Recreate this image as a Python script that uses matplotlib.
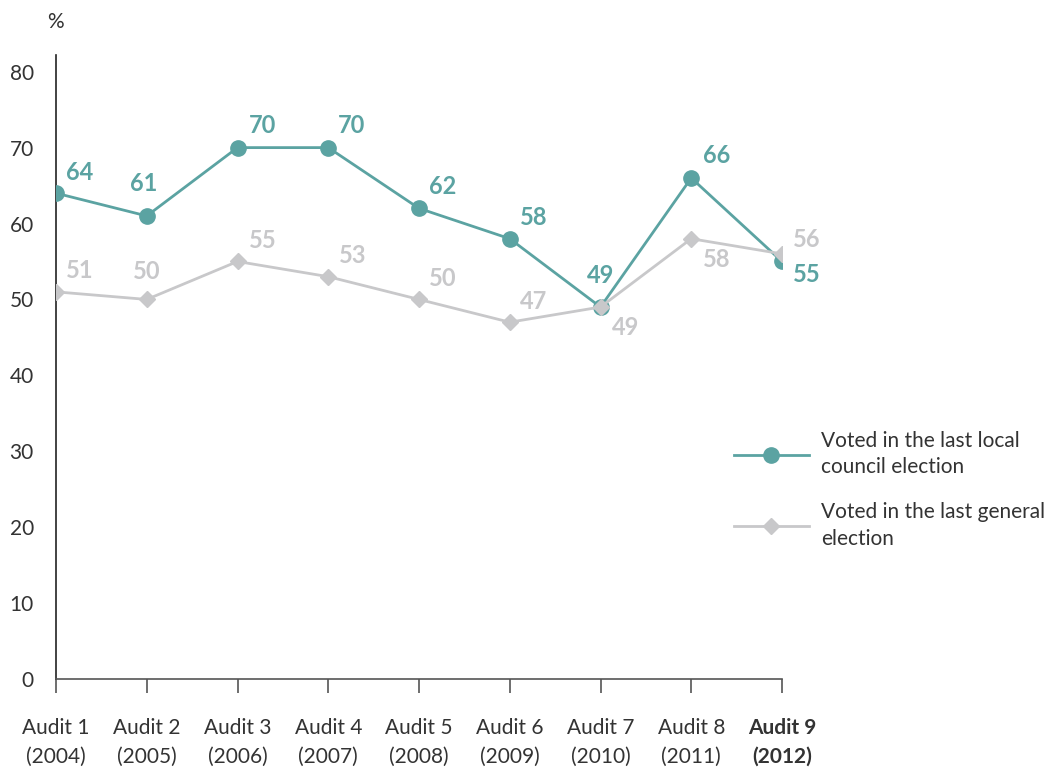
import matplotlib.pyplot as plt
from matplotlib.lines import Line2D

plt.rcParams['font.family'] = ['Lato', 'DejaVu Sans']

audits = ['Audit 1', 'Audit 2', 'Audit 3', 'Audit 4', 'Audit 5',
          'Audit 6', 'Audit 7', 'Audit 8', 'Audit 9']
years = ['2004', '2005', '2006', '2007', '2008', '2009', '2010', '2011', '2012']
local_vote = [64, 61, 70, 70, 62, 58, 49, 66, 55]
general_vote = [51, 50, 55, 53, 50, 47, 49, 58, 56]

# label offsets in pixels (dx, dy)
local_offsets = [(24, 21), (-3, 32), (25, 22), (23, 22), (24, 22),
                 (24, 21), (0, 32), (25, 22), (25, -13)]
general_offsets = [(24, 21), (0, 28), (25, 21), (24, 21), (24, 21),
                   (24, 21), (25, -20), (25, -21), (25, 14)]

teal = '#5BA3A2'
grey = '#C8C8CA'

fig = plt.figure(figsize=(10.57, 7.67), dpi=100)
ax = fig.add_axes([56 / 1057, 1 - 679 / 767, (782 - 56) / 1057, (679 - 55) / 767])

x = list(range(len(audits)))
ax.plot(x, local_vote, color=teal, lw=2, marker='o', ms=11, zorder=3)
ax.plot(x, general_vote, color=grey, lw=2, marker='D', ms=8, zorder=4)

for xi, v, (dx, dy) in zip(x, local_vote, local_offsets):
    ax.annotate(str(v), (xi, v), xytext=(dx, dy), textcoords='offset pixels',
                ha='center', va='center', color=teal, fontsize=17,
                fontweight='bold', zorder=5)
for xi, v, (dx, dy) in zip(x, general_vote, general_offsets):
    ax.annotate(str(v), (xi, v), xytext=(dx, dy), textcoords='offset pixels',
                ha='center', va='center', color=grey, fontsize=17,
                fontweight='bold', zorder=5)

ax.set_xlim(0, 8)
ax.set_ylim(0, 82.2)
ax.set_yticks(range(0, 81, 10))
ax.set_xticks(x)
ax.set_xticklabels([f'{a}\n({y})' for a, y in zip(audits, years)],
                   linespacing=1.55)
ax.get_xticklabels()[-1].set_fontweight('bold')

ax.spines['top'].set_visible(False)
ax.spines['right'].set_visible(False)
ax.spines['left'].set_color('#222222')
ax.spines['bottom'].set_color('#555555')
ax.spines['left'].set_linewidth(1.2)
ax.spines['bottom'].set_linewidth(1.2)
ax.tick_params(axis='x', length=10, width=1.2, color='#555555', pad=18,
               labelsize=15, labelcolor='#333333')
ax.tick_params(axis='y', length=0, pad=16, labelsize=15, labelcolor='#333333')

fig.text(55 / 1057, 1 - 22 / 767, '%', ha='center', va='center',
         fontsize=15, color='#333333')

handles = [
    Line2D([], [], color=teal, lw=2, marker='o', ms=11),
    Line2D([], [], color=grey, lw=2, marker='D', ms=8),
]
labels = ['Voted in the last local\ncouncil election',
          'Voted in the last general\nelection']
leg = fig.legend(handles, labels, loc='center left',
                 bbox_to_anchor=(715 / 1057, 1 - 490 / 767), frameon=False,
                 fontsize=15, handlelength=3.6, handletextpad=0.6,
                 labelspacing=1.2, labelcolor='#333333')
for t in leg.get_texts():
    t.set_linespacing(1.4)

fig.savefig('out.png', dpi=100)
